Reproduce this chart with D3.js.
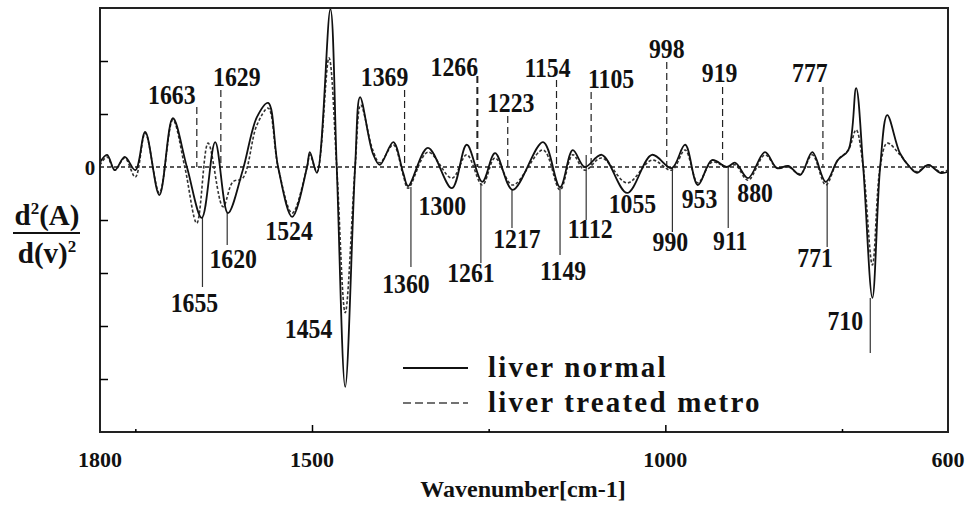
<!DOCTYPE html>
<html>
<head>
<meta charset="utf-8">
<script src="https://cdn.jsdelivr.net/npm/d3@7"></script>
<style>
  body { margin: 0; background: #fff; }
  svg text { font-family: "Liberation Serif", "Times New Roman", serif; font-weight: bold; fill: #111; }
</style>
</head>
<body>
<svg width="968" height="506"></svg>
<script>
// second derivative spectra (y in tick units)
var normalWn = [1800,1790,1779,1765,1750,1736,1716,1697,1677,1656,1637,1619,1598,1578,1562,1548,1528,1507,1503,1493,1474,1465,1453,1439,1432,1414,1404,1385,1371,1364,1336,1302,1281,1259,1241,1216,1173,1149,1131,1114,1090,1054,1019,991,972,954,934,913,901,883,859,842,826,809,792,773,756,741,730,720,707,696,686,668,654,644,628,611,600];
var normalVal = [0.09,0.23,-0.06,0.19,-0.06,0.66,-0.53,0.92,0,-0.96,0.47,-0.87,-0.06,0.94,1.21,0,-0.94,0,0.28,-0.11,2.98,0,-4.15,0,1.32,0.26,0.04,0.47,-0.11,-0.36,0.36,-0.40,0.42,-0.28,0.26,-0.43,0.47,-0.38,0.32,0,0.23,-0.49,0.23,-0.02,0.42,-0.34,0.13,0,0.08,-0.21,0.28,-0.02,0.02,-0.15,0.28,-0.28,0.13,0.32,1.49,0,-2.47,0,0.98,0.26,0,-0.11,0.04,-0.11,-0.09];

var treatedWn = [1800,1790,1779,1765,1750,1736,1716,1697,1680,1663,1647,1626,1612,1598,1578,1562,1548,1528,1507,1503,1493,1476,1465,1453,1439,1431,1414,1404,1385,1371,1364,1336,1302,1281,1259,1241,1216,1173,1149,1131,1114,1090,1054,1019,991,972,954,934,913,901,883,859,842,826,809,792,773,756,741,730,720,707,696,686,668,654,644,628,611,600];
var treatedVal = [0.04,0.19,-0.06,0.17,-0.19,0.64,-0.49,0.89,0,-1.06,0.45,-0.75,-0.28,-0.21,0.79,1.11,0,-0.87,0,0.23,-0.09,2.06,0,-2.75,0,1.17,0.32,0.08,0.42,-0.15,-0.40,0.28,-0.21,0.23,-0.34,0.17,-0.34,0.32,-0.43,0.23,-0.06,0.17,-0.30,0.13,-0.06,0.32,-0.30,0.09,0,0.04,-0.25,0.23,-0.02,0,-0.13,0.23,-0.34,0.13,0.32,0.70,0,-1.85,0,0.45,0.23,0,-0.09,0.04,-0.09,-0.06];

var seriesNames = ["liver normal", "liver treated metro"];

// peak labels
var upperPeaks = [1663,1629,1369,1266,1223,1154,1105,998,919,777];
var lowerPeaks = [1655,1620,1524,1454,1360,1300,1261,1217,1149,1112,1055,990,953,911,880,771,710];

// axis ticks
var xTickLabels = [1800,1500,1000,600];
var xMajorTicks = [1500,1000];
var xMinorTicks = [1750,1250,750];
var yTicks = [-4,-3,-2,-1,1,2];

// label layout (pixels): [dx from line, text baseline, line top]
var upperLayout = [[-25,104,107],[16,86,90],[-20,86,90],[-23,76,76],[3,112,116],[-9,77,80],[20,88,92],[0,58,62],[-3,82,87],[-13,82,87]];
// [dx, baseline, line y1, line y2] (no line when y1 is null)
var lowerLayout = [[-8,312,218,287],[6,268,213,245],[-6,240,null,null],[-36,338,null,null],[-5,293,187,267],[-11,215,null,null],[-10,282,183,263],[5,248,190,228],[3,280,187,255],[4,238,155,220],[6,213,null,null],[-2,251,168,232],[1,208,null,null],[2,250,167,228],[5,202,null,null],[-12,267,182,247],[-25,330,298,353]];

var svg = d3.select("svg");
var plotL = 100, plotR = 948, plotT = 8, plotB = 432;

var x = d3.scaleLinear().domain([1800, 600]).range([plotL, plotR]);
var y = d3.scaleLinear().domain([-5, 3]).range([plotB, plotT]);

var normal = normalWn.map(function(w, i){ return [w, normalVal[i]]; });
var treated = treatedWn.map(function(w, i){ return [w, treatedVal[i]]; });

var line = d3.line()
  .x(function(d){ return x(d[0]); })
  .y(function(d){ return y(d[1]); })
  .curve(d3.curveCatmullRom.alpha(0.5));

// zero line
svg.append("line")
  .attr("x1", plotL).attr("x2", plotR)
  .attr("y1", y(0)).attr("y2", y(0))
  .attr("stroke", "#222").attr("stroke-width", 1.3)
  .attr("stroke-dasharray", "4,3");

// upper leader lines (dashed)
upperPeaks.forEach(function(p, i){
  var l = upperLayout[i];
  svg.append("line")
    .attr("x1", x(p)).attr("x2", x(p))
    .attr("y1", l[2]).attr("y2", y(0))
    .attr("stroke", "#222")
    .attr("stroke-width", p == 1266 ? 2 : 1.2)
    .attr("stroke-dasharray", "7,4");
  svg.append("text")
    .attr("transform", "translate(" + (x(p) + l[0]) + "," + l[1] + ") scale(0.88,1)")
    .attr("text-anchor", "middle")
    .style("font-size", "27px")
    .text(p);
});

// lower leader lines (solid)
lowerPeaks.forEach(function(p, i){
  var l = lowerLayout[i];
  if (l[2] != null) {
    svg.append("line")
      .attr("x1", x(p)).attr("x2", x(p))
      .attr("y1", l[2]).attr("y2", l[3])
      .attr("stroke", "#333").attr("stroke-width", 1.2);
  }
  svg.append("text")
    .attr("transform", "translate(" + (x(p) + l[0]) + "," + l[1] + ") scale(0.88,1)")
    .attr("text-anchor", "middle")
    .style("font-size", "27px")
    .text(p);
});

// spectra
svg.append("path").datum(treated)
  .attr("d", line).attr("fill", "none")
  .attr("stroke", "#333").attr("stroke-width", 1.6)
  .attr("stroke-dasharray", "3,2");
svg.append("path").datum(normal)
  .attr("d", line).attr("fill", "none")
  .attr("stroke", "#111").attr("stroke-width", 1.8);

// frame
svg.append("rect")
  .attr("x", plotL).attr("y", plotT)
  .attr("width", plotR - plotL).attr("height", plotB - plotT)
  .attr("fill", "none").attr("stroke", "#222").attr("stroke-width", 2);

// ticks, pointing in
svg.append("g").attr("transform", "translate(0," + plotB + ")")
  .call(d3.axisBottom(x).tickValues(xMinorTicks).tickSize(-3).tickFormat(""))
  .call(function(g){ g.select(".domain").remove(); g.selectAll("line").attr("stroke-width", 1.5); });
svg.append("g").attr("transform", "translate(0," + plotB + ")")
  .call(d3.axisBottom(x).tickValues(xMajorTicks).tickSize(-7).tickFormat(""))
  .call(function(g){ g.select(".domain").remove(); g.selectAll("line").attr("stroke-width", 1.5); });
svg.append("g").attr("transform", "translate(" + plotL + ",0)")
  .call(d3.axisLeft(y).tickValues(yTicks).tickSize(-8).tickFormat(""))
  .call(function(g){ g.select(".domain").remove(); g.selectAll("line").attr("stroke-width", 1.5); });

svg.selectAll(".xlab").data(xTickLabels).enter().append("text")
  .attr("class", "xlab")
  .attr("x", function(d){ return x(d); })
  .attr("y", 467)
  .attr("text-anchor", "middle")
  .style("font-size", "22px")
  .text(function(d){ return d; });

svg.append("text")
  .attr("x", 90).attr("y", y(0) + 8)
  .attr("text-anchor", "middle")
  .style("font-size", "21px")
  .text("0");

svg.append("text")
  .attr("x", 523).attr("y", 497)
  .attr("text-anchor", "middle")
  .style("font-size", "24px")
  .text("Wavenumber[cm-1]");

// y label as a fraction
var yl = svg.append("g").attr("transform", "translate(47,0)");
var t1 = yl.append("text").attr("y", 225).attr("text-anchor", "middle").style("font-size", "29px");
t1.append("tspan").text("d");
t1.append("tspan").attr("dy", -11).style("font-size", "17px").text("2");
t1.append("tspan").attr("dy", 11).text("(A)");
yl.append("line").attr("x1", -34).attr("x2", 33).attr("y1", 233).attr("y2", 233)
  .attr("stroke", "#111").attr("stroke-width", 2);
var t2 = yl.append("text").attr("y", 263).attr("text-anchor", "middle").style("font-size", "29px");
t2.append("tspan").text("d(v)");
t2.append("tspan").attr("dy", -11).style("font-size", "17px").text("2");

// legend
var legend = svg.append("g");
seriesNames.forEach(function(name, i){
  var ly = 368 + i * 35;
  legend.append("line")
    .attr("x1", 403).attr("x2", 468).attr("y1", ly).attr("y2", ly)
    .attr("stroke", i == 0 ? "#111" : "#444")
    .attr("stroke-width", i == 0 ? 2 : 1.6)
    .attr("stroke-dasharray", i == 0 ? null : "8,4");
  legend.append("text")
    .attr("x", 488).attr("y", ly + 9)
    .style("font-size", "29px")
    .style("letter-spacing", "2.2px")
    .text(name);
});
</script>
</body>
</html>
